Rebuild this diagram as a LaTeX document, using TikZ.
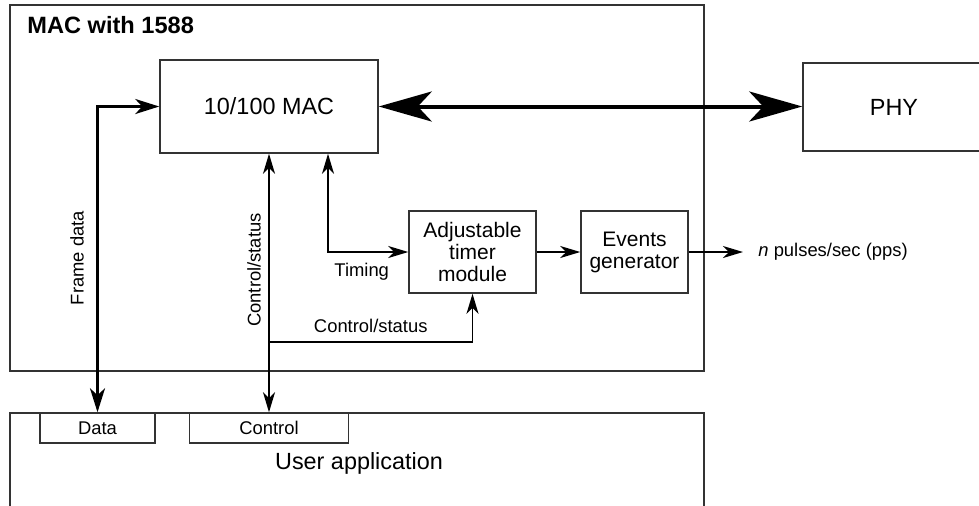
\documentclass[tikz,border=0pt]{standalone}
\usepackage{fontspec}
\setmainfont{Liberation Sans}
\usetikzlibrary{arrows.meta}

\begin{document}
\begin{tikzpicture}[x=0.5pt, y=-0.5pt,
        box/.style={draw=black!80, line width=0.75pt, align=center, inner sep=0pt},
        big/.style={font=\fontsize{11.7}{14}\selectfont},
        mid/.style={font=\fontsize{10.5}{11}\selectfont},
        lbl/.style={font=\fontsize{9.2}{11}\selectfont},
        wire/.style={line width=0.75pt, >={Stealth[length=10pt, width=6pt, inset=3pt]}},
        framewire/.style={line width=1.5pt, >={Stealth[length=12pt, width=7.5pt, inset=3.5pt]}},
        buswire/.style={line width=2pt, >={Stealth[length=26.5pt, width=15pt, inset=7pt]}}]
    \useasboundingbox (0,0) rectangle (979,505);
    \clip (0,0) rectangle (979,505);
    % Bloque MAC con 1588
    \node[box, minimum width=347pt, minimum height=183pt] (macblk) at (357,188) {};
    \node[anchor=west, inner sep=0pt, font=\bfseries\fontsize{11.8}{14}\selectfont] (title) at (27,25) {MAC with 1588};
    \node[box, big, minimum width=109pt, minimum height=46.5pt] (mac) at (269,106.5) {10/100 MAC};
    \node[box, big, minimum width=91pt, minimum height=44pt] (phy) at (894,107) {PHY};
    \node[box, mid, minimum width=63.5pt, minimum height=41pt] (timer) at (472.5,252) {Adjustable\\timer\\module};
    \node[box, mid, minimum width=53.5pt, minimum height=41pt] (events) at (634.5,252) {Events\\generator};
    \node[lbl, anchor=west, inner xsep=7.5pt] (pps) at (743,252) {\textit{n} pulses/sec (pps)};
    % Aplicacion de usuario
    \draw[box] (10,413) rectangle (704,540);
    \node[big] (userapp) at (359,463) {User application};
    \node[box, lbl, minimum width=57.5pt, minimum height=15pt] (data) at (97.5,428) {Data};
    \node[box, lbl, minimum width=79.5pt, minimum height=15pt] (ctrl) at (269,428) {Control};
    % Conexiones
    \coordinate (timing) at (328,252);
    \coordinate (branch) at (269,342);
    \draw[buswire, <->] (mac.east) -- (mac.east -| phy.west);
    \draw[framewire, <->] (data.north) |- (mac.west);
    \draw[wire, <->] (ctrl.north) -- (mac.south);
    \draw[wire, <->] (mac.south -| timing) |- (timer.west) node[lbl, pos=0.71, below=2pt] {Timing};
    \draw[wire, ->] (branch) -| (timer.south) node[lbl, pos=0.25, above=1pt] {Control/status};
    \draw[wire, ->] (timer.east) -- (events.west);
    \draw[wire, ->] (events.east) -- (pps.west);
    \node[lbl, rotate=90] (framelbl) at (77,258) {Frame data};
    \node[lbl, rotate=90] (ctrllbl) at (254,270) {Control/status};
\end{tikzpicture}
\end{document}
